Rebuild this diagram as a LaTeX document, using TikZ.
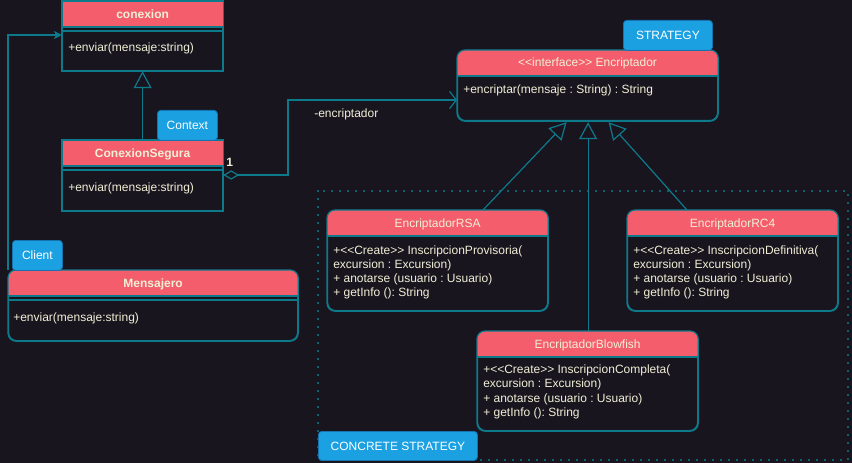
\documentclass[tikz,border=0pt]{standalone}
\usepackage{fontspec}
\setmainfont{Liberation Sans}
\usetikzlibrary{arrows.meta,calc}
\frenchspacing
\definecolor{bgc}{RGB}{24,21,31}
\definecolor{teal}{RGB}{13,122,140}
\definecolor{hdr}{RGB}{244,93,108}
\definecolor{lblue}{RGB}{27,161,226}
\definecolor{lborder}{RGB}{22,115,175}
\definecolor{txt}{RGB}{240,240,214}
\tikzset{
  box/.style={draw=teal, line width=0.9pt, fill=bgc, anchor=north west, inner sep=0pt},
  rbox/.style={box, rounded corners=6pt},
  ttl/.style={anchor=base, inner sep=0pt, text=txt, font=\fontsize{9pt}{10pt}\selectfont},
  btl/.style={ttl, font=\fontsize{9pt}{10pt}\selectfont\bfseries},
  bodytxt/.style={anchor=base west, inner sep=0pt, text=txt, font=\fontsize{9pt}{10pt}\selectfont},
  tag/.style={draw=lborder, line width=0.6pt, fill=lblue, rounded corners=2.5pt, anchor=north west, inner sep=0pt, text=white, font=\fontsize{9pt}{10pt}\selectfont},
  conn/.style={draw=teal, line width=0.9pt},
  gen/.style={conn, -{Triangle[open, length=12.75pt, width=13.5pt]}},
  dotted frame/.style={draw=teal, line width=1.6pt, line cap=round, dash pattern=on 0pt off 6pt}
}
\newcommand{\hdrfill}[2]{%
  \begin{scope}
    \clip[rounded corners=#2] (#1.north west) rectangle (#1.south east);
    \fill[hdr] (#1.north west) rectangle ($(#1.north east)+(0,26)$);
  \end{scope}
  \draw[teal, line width=0.9pt] ($(#1.north west)+(0,26)$) -- ($(#1.north east)+(0,26)$);
  \draw[teal, line width=0.9pt, rounded corners=#2] (#1.north west) rectangle (#1.south east);
}
\newcommand{\lt}{<{}<}
\newcommand{\gt}{>{}>}
\begin{document}
\begin{tikzpicture}[x=0.75pt, y=-0.75pt]
\fill[bgc] (0,0) rectangle (852,463);
\useasboundingbox (0,0) rectangle (852,463);

% dotted container
\draw[dotted frame] (318,191) rectangle (848,460);

% ---------- conexion
\node[box, minimum width=120pt, minimum height=51.75pt] (con) at (62,1) {};
\hdrfill{con}{0pt}
\draw[teal, line width=0.9pt] ($(con.north west)+(0,30)$) -- ($(con.north east)+(0,30)$);
\node[btl] (conT) at ($(con.north)+(0,17.5)$) {conexion};
\node[bodytxt] (conB) at ($(con.north west)+(6,50.5)$) {+enviar(mensaje:string)};

% ---------- ConexionSegura
\node[box, minimum width=120pt, minimum height=52.5pt] (cs) at (62,140) {};
\hdrfill{cs}{0pt}
\draw[teal, line width=0.9pt] ($(cs.north west)+(0,30)$) -- ($(cs.north east)+(0,30)$);
\node[btl] (csT) at ($(cs.north)+(0,17.5)$) {ConexionSegura};
\node[bodytxt] (csB) at ($(cs.north west)+(6,51.5)$) {+enviar(mensaje:string)};

% ---------- Mensajero
\node[rbox, minimum width=216.75pt, minimum height=52.5pt] (men) at (8,270) {};
\hdrfill{men}{6pt}
\draw[teal, line width=0.9pt] ($(men.north west)+(0,30)$) -- ($(men.north east)+(0,30)$);
\node[btl] (menT) at ($(men.north)+(0,17.5)$) {Mensajero};
\node[bodytxt] (menB) at ($(men.north west)+(5,51)$) {+enviar(mensaje:string)};

% ---------- Encriptador
\node[rbox, minimum width=195pt, minimum height=52.5pt] (enc) at (457,50) {};
\hdrfill{enc}{6pt}
\node[ttl] (encT) at ($(enc.north)+(0,17)$) {\lt interface\gt{} Encriptador};
\node[bodytxt] (encB) at ($(enc.north west)+(6,44)$) {+encriptar(mensaje : String) : String};

% ---------- EncriptadorRSA
\node[rbox, minimum width=165pt, minimum height=75pt] (rsa) at (327,210) {};
\hdrfill{rsa}{6pt}
\node[ttl] (rsaT) at ($(rsa.north)+(0,17.5)$) {EncriptadorRSA};
\node[bodytxt] (rsa1) at ($(rsa.north west)+(6,44.5)$) {+\lt Create\gt{} InscripcionProvisoria(};
\node[bodytxt] (rsa2) at ($(rsa.north west)+(6,58.5)$) {excursion : Excursion)};
\node[bodytxt] (rsa3) at ($(rsa.north west)+(6,72.5)$) {+ anotarse (usuario : Usuario)};
\node[bodytxt] (rsa4) at ($(rsa.north west)+(6,86.5)$) {+ getInfo (): String};

% ---------- EncriptadorRC4
\node[rbox, minimum width=157.5pt, minimum height=75pt] (rc4) at (627,210) {};
\hdrfill{rc4}{6pt}
\node[ttl] (rc4T) at ($(rc4.north)+(0,17.5)$) {EncriptadorRC4};
\node[bodytxt] (rc41) at ($(rc4.north west)+(6,44.5)$) {+\lt Create\gt{} InscripcionDefinitiva(};
\node[bodytxt] (rc42) at ($(rc4.north west)+(6,58.5)$) {excursion : Excursion)};
\node[bodytxt] (rc43) at ($(rc4.north west)+(6,72.5)$) {+ anotarse (usuario : Usuario)};
\node[bodytxt] (rc44) at ($(rc4.north west)+(6,86.5)$) {+ getInfo (): String};

% ---------- EncriptadorBlowfish
\node[rbox, minimum width=165pt, minimum height=74.25pt] (blo) at (477,331) {};
\hdrfill{blo}{6pt}
\node[ttl] (bloT) at ($(blo.north)+(0,17.5)$) {EncriptadorBlowfish};
\node[bodytxt] (blo1) at ($(blo.north west)+(6,42.5)$) {+\lt Create\gt{} InscripcionCompleta(};
\node[bodytxt] (blo2) at ($(blo.north west)+(6,56.5)$) {excursion : Excursion)};
\node[bodytxt] (blo3) at ($(blo.north west)+(6,71)$) {+ anotarse (usuario : Usuario)};
\node[bodytxt] (blo4) at ($(blo.north west)+(6,85)$) {+ getInfo (): String};

% ---------- tags
\node[tag, minimum width=45pt, minimum height=22.5pt] (tagCtx) at (157,110) {Context};
\node[tag, minimum width=37.5pt, minimum height=22.5pt] (tagCli) at (12,240) {Client};
\node[tag, minimum width=66.75pt, minimum height=22.5pt] (tagStr) at (623,20) {STRATEGY};
\node[tag, minimum width=119.25pt, minimum height=21.75pt] (tagCon) at (318,431) {CONCRETE STRATEGY};

% ---------- connectors
% inheritance ConexionSegura -> conexion
\draw[gen] (cs.north) -- (con.south);
% Mensajero -> conexion
\coordinate (m1) at ($(men.north west)+(0,-235)$);
\draw[conn, -{Stealth[length=6pt, width=6pt, inset=1.5pt]}] (men.north west) -- (m1) -- ($(con.north west)+(0,34)$);
% aggregation ConexionSegura -> Encriptador
\coordinate (aggA) at ($(cs.north east)+(0,35)$);
\coordinate (aggB) at (288,175);
\coordinate (aggC) at (288,100);
\coordinate (encL) at ($(enc.north west)+(0,50)$);
\draw[conn, {Diamond[open, length=12pt, width=7pt]}-{Straight Barb[length=5pt, width=13pt, line width=0.9pt]}] (aggA) -- (aggB) -- (aggC) -- (encL);
\node[anchor=base west, inner sep=0pt, text=txt, font=\fontsize{9pt}{10pt}\selectfont\bfseries] (mult) at ($(cs.north east)+(3,27)$) {1};
\node[anchor=base west, inner sep=0pt, text=txt, font=\fontsize{9pt}{10pt}\selectfont] (role) at (314,118) {-encriptador};
% realizations
\coordinate (apL) at ($(enc.south)+(-21,1)$);
\coordinate (apM) at ($(enc.south)+(0.5,1)$);
\coordinate (apR) at ($(enc.south)+(21,1)$);
\draw[gen] ($(rsa.north west)+(156,0)$) -- (apL);
\draw[gen] (blo.north -| apM) -- (apM);
\draw[gen] ($(rc4.north west)+(60,0)$) -- (apR);
\end{tikzpicture}
\end{document}
